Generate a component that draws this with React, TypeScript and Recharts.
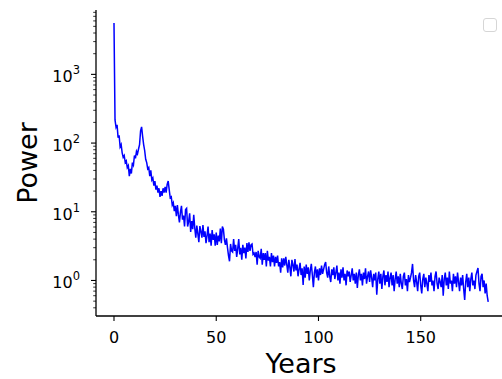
import React from 'react';
import { LineChart, Line, XAxis, YAxis } from 'recharts';

// Power spectrum values, one every half year starting at year 0
const power: number[] = [
  5600, 217, 170, 185, 120, 130, 88, 95, 72, 62,
  66, 52, 55, 44, 47, 33, 42, 36, 52, 48,
  66, 60, 76, 70, 82, 95, 150, 172, 125, 95,
  78, 58, 52, 42, 44, 33, 40, 29, 31, 24,
  28, 21, 24, 19, 22, 16.5, 20, 17, 22, 19,
  23, 19, 25, 28, 21, 16, 16.5, 12.5, 13.5, 10.2,
  12.2, 8.6, 12.5, 9.0, 7.0, 9.9, 12.2, 7.7, 8.8, 6.1,
  10.8, 11.2, 6.1, 7.2, 9.5, 5.1, 7.3, 5.6, 9.0, 5.8,
  4.2, 6.3, 4.8, 3.6, 6.2, 5.2, 4.2, 6.4, 4.3, 5.2,
  3.5, 4.5, 6.1, 3.6, 4.8, 3.2, 5.4, 3.9, 4.7, 3.2,
  5.0, 3.3, 4.5, 3.7, 5.7, 3.5, 6.1, 5.6, 3.9, 3.3,
  4.1, 3.0, 2.3, 1.9, 3.4, 2.7, 2.6, 4.0, 2.7, 3.3,
  2.2, 2.9, 4.0, 2.4, 3.0, 2.0, 3.3, 2.5, 3.0, 2.1,
  3.5, 2.6, 3.6, 2.7, 3.3, 3.4, 2.4, 2.5, 2.2, 2.6,
  1.7, 2.7, 2.2, 2.1, 2.9, 1.7, 2.5, 2.0, 2.5, 1.6,
  2.7, 1.95, 2.2, 1.6, 2.5, 1.85, 2.3, 1.6, 2.2, 1.8,
  2.3, 1.6, 1.85, 1.3, 2.1, 1.55, 2.1, 1.65, 2.2, 1.7,
  1.3, 2.0, 1.55, 1.15, 2.0, 1.7, 1.35, 2.05, 1.4, 1.7,
  1.15, 1.45, 1.8, 1.2, 1.5, 0.86, 1.6, 1.1, 1.7, 1.25,
  1.55, 1.0, 1.4, 1.75, 1.2, 0.8, 1.3, 1.6, 1.1, 1.45,
  1.0, 1.5, 1.2, 1.65, 1.25, 1.45, 1.7, 1.86, 1.3, 1.1,
  1.6, 1.15, 0.95, 1.45, 1.2, 1.55, 1.05, 1.3, 1.65, 1.0,
  1.3, 0.9, 1.45, 1.1, 1.55, 1.0, 1.25, 0.85, 1.4, 1.15,
  1.35, 0.95, 1.2, 1.5, 1.0, 1.25, 0.9, 1.3, 0.78, 1.2,
  1.45, 1.0, 1.25, 0.85, 1.3, 1.05, 1.5, 0.9, 1.15, 1.35,
  0.95, 1.4, 1.1, 0.8, 1.25, 1.0, 1.3, 0.62, 1.05, 1.35,
  0.9, 1.25, 0.75, 1.15, 1.4, 0.85, 1.2, 0.95, 1.35, 0.8,
  1.1, 1.3, 0.85, 1.2, 0.7, 1.05, 1.35, 0.9, 1.15, 0.8,
  1.25, 0.9, 0.75, 1.15, 1.3, 0.85, 1.05, 0.7, 1.2, 0.95,
  1.1, 1.3, 1.74, 1.0, 0.8, 1.2, 0.95, 0.7, 1.15, 1.3,
  0.85, 0.65, 1.05, 1.25, 0.8, 1.1, 0.9, 0.7, 1.2, 0.95,
  1.3, 0.85, 1.0, 0.7, 1.15, 1.35, 0.9, 0.75, 1.1, 0.95,
  0.8, 1.2, 0.6, 1.05, 1.3, 0.85, 1.1, 0.75, 1.35, 0.9,
  1.0, 0.7, 1.25, 0.9, 1.15, 0.8, 1.3, 0.95, 0.7, 1.1,
  0.85, 1.2, 0.75, 0.52, 0.95, 1.25, 0.8, 1.1, 0.7, 1.05,
  1.3, 0.85, 1.0, 0.75, 1.2, 1.35, 1.52, 0.9, 0.7, 1.15,
  1.25, 0.8, 1.0, 0.65, 0.9, 0.6, 0.49,
];

const yearStep = 0.5;
const years: number[] = power.map((_, i) => i * yearStep);

const xTicks = [0, 50, 100, 150];
const yMajorTicks = [1, 10, 100, 1000];
const yMinorTicks = [
  0.4, 0.5, 0.6, 0.7, 0.8, 0.9,
  2, 3, 4, 5, 6, 7, 8, 9,
  20, 30, 40, 50, 60, 70, 80, 90,
  200, 300, 400, 500, 600, 700, 800, 900,
  2000, 3000, 4000, 5000, 6000, 7000, 8000,
];

const xLabel = 'Years';
const yLabel = 'Power';

const data = years.map((yr, i) => ({ year: yr, power: power[i] }));
const yTicks = [...yMajorTicks, ...yMinorTicks].sort((a, b) => a - b);

const FONT = '"DejaVu Sans", sans-serif';
const AXIS_X = 96;
const AXIS_BOTTOM = 316;

const YTick = (props: any) => {
  const { y, payload } = props;
  const v = payload.value as number;
  const major = yMajorTicks.includes(v);
  const exp = Math.round(Math.log10(v));
  return (
    <g>
      <line
        x1={AXIS_X}
        x2={AXIS_X - (major ? 5 : 2.8)}
        y1={y}
        y2={y}
        stroke="#000"
        strokeWidth={major ? 1.1 : 0.8}
      />
      {major && (
        <text x={80} y={y + 8} textAnchor="end" fontSize={16} fontFamily={FONT} fill="#000">
          10
          <tspan dy={-8} fontSize={11.5}>
            {exp}
          </tspan>
        </text>
      )}
    </g>
  );
};

const XTick = (props: any) => {
  const { x, payload } = props;
  return (
    <g>
      <line x1={x} x2={x} y1={AXIS_BOTTOM} y2={AXIS_BOTTOM + 5} stroke="#000" strokeWidth={1.1} />
      <text x={x} y={343.3} textAnchor="middle" fontSize={16} fontFamily={FONT} fill="#000">
        {payload.value}
      </text>
    </g>
  );
};

export default function App() {
  return (
    <div
      style={{
        position: 'fixed',
        left: 0,
        top: 0,
        width: 502,
        height: 379,
        overflow: 'hidden',
        background: '#fff',
      }}
    >
      <LineChart
        width={512}
        height={379}
        data={data}
        margin={{ top: 10, right: 6, bottom: 0, left: 0 }}
      >
        <XAxis
          dataKey="year"
          type="number"
          domain={[-8.8, 191.7]}
          ticks={xTicks}
          interval={0}
          height={63}
          tickLine={false}
          axisLine={{ stroke: '#000', strokeWidth: 1.3 }}
          tick={<XTick />}
          allowDataOverflow
          label={() => (
            <text x={301} y={373} textAnchor="middle" fontSize={27} fontFamily={FONT} fill="#000">
              {xLabel}
            </text>
          )}
        />
        <XAxis
          xAxisId="top"
          orientation="top"
          dataKey="year"
          type="number"
          domain={[-8.8, 191.7]}
          height={0}
          tick={false}
          tickLine={false}
          axisLine={{ stroke: '#000', strokeWidth: 1.3 }}
          allowDataOverflow
        />
        <YAxis
          dataKey="power"
          type="number"
          scale="log"
          domain={[0.304, 8650]}
          ticks={yTicks}
          interval={0}
          width={96}
          tickLine={false}
          axisLine={{ stroke: '#000', strokeWidth: 1.3 }}
          tick={<YTick />}
          allowDataOverflow
          label={() => (
            <text
              x={37}
              y={163}
              transform="rotate(-90 37 163)"
              textAnchor="middle"
              fontSize={27}
              fontFamily={FONT}
              fill="#000"
            >
              {yLabel}
            </text>
          )}
        />
        <Line
          type="linear"
          dataKey="power"
          stroke="#0000ff"
          strokeWidth={1.5}
          dot={false}
          activeDot={false}
          isAnimationActive={false}
        />
      </LineChart>
      <div
        style={{
          position: 'absolute',
          left: 483,
          top: 18,
          width: 12,
          height: 12,
          border: '1px solid #d6d6d6',
          borderRadius: 3,
          background: '#fff',
        }}
      />
    </div>
  );
}
